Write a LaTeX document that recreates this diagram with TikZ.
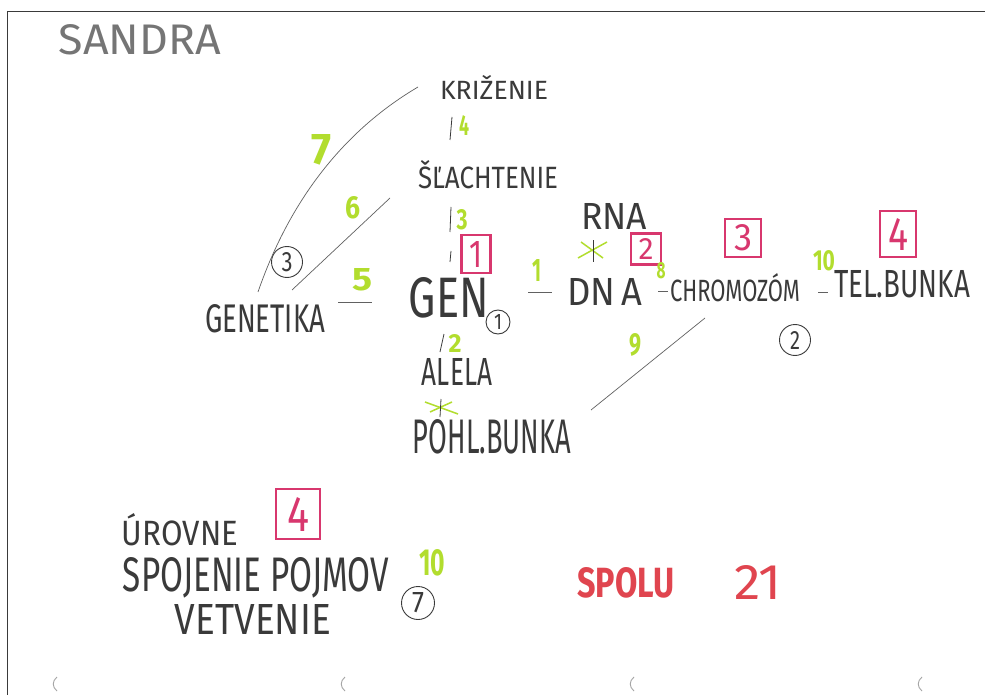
\documentclass[tikz,border=0pt]{standalone}
\usepackage{fontspec}
\setmainfont{Fira Sans}
\usepackage{graphicx}
\definecolor{pencil}{HTML}{3A3A3A}
\definecolor{lime}{HTML}{B2DD2E}
\definecolor{pinkm}{HTML}{D8376E}
\definecolor{redc}{HTML}{E0454F}
\newcommand\hw[3]{\resizebox{#1pt}{#2pt}{#3}}
\tikzset{
  word/.style={inner sep=0pt, text=pencil},
  num/.style={inner sep=0pt, text=lime, font=\bfseries},
  lvl/.style={draw=pinkm, line width=2.2pt, text=pinkm, inner sep=0pt},
  ring/.style={circle, draw=pencil, line width=0.9pt, inner sep=0pt, text=pencil},
  link/.style={draw=pencil!80, line width=0.7pt},
  tick/.style={draw=pencil, line width=0.8pt},
  gcross/.style={draw=lime, line width=1.5pt},
}
\begin{document}
\begin{tikzpicture}[x=1pt,y=-1pt]
\useasboundingbox (0,0) rectangle (985,695);
\fill[white] (0,0) rectangle (985,695);
% sheet edge
\coordinate (f1) at (7,695); \coordinate (f2) at (7,12); \coordinate (f3) at (985,12);
\draw[pencil, line width=1pt] (f1) -- (f2) -- (f3);

\node[word, text=pencil!70] (sandra) at (140,40) {\hw{162}{30}{SANDRA}};

% concepts
\node[word] (kriz) at (494,88) {\hw{108}{24}{KRIŽENIE}};
\node[word] (slach) at (488,175) {\hw{140}{28}{ŠĽACHTENIE}};
\node[word] (gen) at (449,298) {\hw{80}{40}{GEN}};
\node[word] (rna) at (614,216) {\hw{66}{26}{RNA}};
\node[word] (dna) at (605,292) {\hw{75}{27}{DN\,A}};
\node[word] (chrom) at (735,288) {\hw{130}{28}{CHROMOZÓM}};
\node[word] (tel) at (902,284) {\hw{136}{27}{TEL.BUNKA}};
\node[word] (genet) at (265,319) {\hw{120}{28}{GENETIKA}};
\node[word] (alela) at (457,372) {\hw{70}{27}{ALELA}};
\node[word] (pohl) at (492,437) {\hw{158}{34}{POHL.BUNKA}};

% level boxes
\node[lvl, minimum width=29pt, minimum height=38pt] (b1) at (476,254) {\hw{13}{26}{1}};
\node[lvl, minimum width=30pt, minimum height=31pt] (b2) at (646,249) {\hw{15}{21}{2}};
\node[lvl, minimum width=36pt, minimum height=38pt] (b3) at (743,238) {\hw{18}{26}{3}};
\node[lvl, minimum width=36pt, minimum height=46pt] (b4) at (898,234) {\hw{20}{32}{4}};

% rings
\node[ring, minimum size=24pt] (c1) at (498,322) {\hw{8}{15}{1}};
\node[ring, minimum size=31pt] (c2) at (795,340) {\hw{10}{18}{2}};
\node[ring, minimum size=31pt] (c3) at (287,262) {\hw{11}{19}{3}};
\node[ring, minimum size=33pt] (c7) at (418,603) {\hw{12}{20}{7}};

% connectors
\coordinate (l7a) at (258,292); \coordinate (l7b) at (418,87);
\draw[link] (l7a) .. controls (288,205) and (340,133) .. (l7b);
\coordinate (l6a) at (292,290); \coordinate (l6b) at (390,198);
\draw[link] (l6a) -- (l6b);
\coordinate (l5a) at (338,302); \coordinate (l5b) at (372,302);
\draw[link] (l5a) -- (l5b);
\coordinate (t4a) at (452,117); \coordinate (t4b) at (450,140);
\draw[tick] (t4a) -- (t4b);
\coordinate (t3a) at (451,207); \coordinate (t3b) at (450,232);
\draw[tick] (t3a) -- (t3b);
\coordinate (t3c) at (451,251); \coordinate (t3d) at (450,262);
\draw[tick] (t3c) -- (t3d);
\coordinate (d1a) at (528,292); \coordinate (d1b) at (552,292);
\draw[link] (d1a) -- (d1b);
\coordinate (d2a) at (658,291); \coordinate (d2b) at (668,291);
\draw[link] (d2a) -- (d2b);
\coordinate (d3a) at (818,292); \coordinate (d3b) at (828,292);
\draw[link] (d3a) -- (d3b);
\coordinate (l9a) at (705,318); \coordinate (l9b) at (591,410);
\draw[link] (l9a) -- (l9b);
\coordinate (t2a) at (444,334); \coordinate (t2b) at (440,352);
\draw[tick] (t2a) -- (t2b);

% crosses
\coordinate (x1a) at (578,258); \coordinate (x1b) at (607,242);
\coordinate (x1c) at (581,242); \coordinate (x1d) at (603,258);
\draw[gcross] (x1a) -- (x1b); \draw[gcross] (x1c) -- (x1d);
\coordinate (x1e) at (593,240); \coordinate (x1f) at (593,262);
\draw[tick] (x1e) -- (x1f);
\coordinate (x2a) at (425,402); \coordinate (x2b) at (458,414);
\coordinate (x2c) at (430,412); \coordinate (x2d) at (452,402);
\draw[gcross] (x2a) -- (x2b); \draw[gcross] (x2c) -- (x2d);
\coordinate (x2e) at (441,399); \coordinate (x2f) at (440,417);
\draw[tick] (x2e) -- (x2f);

% green numbers
\node[num] (n4) at (464,126) {\hw{10}{20}{4}};
\node[num] (n3) at (462,220) {\hw{11}{20}{3}};
\node[num] (n7) at (321,150) {\hw{20}{30}{7}};
\node[num] (n6) at (353,208) {\hw{15}{22}{6}};
\node[num] (n5) at (362,280) {\hw{20}{22}{5}};
\node[num] (n1) at (537,270) {\hw{9}{22}{1}};
\node[num] (n8) at (661,271) {\hw{9}{16}{8}};
\node[num] (n10) at (824,261) {\hw{22}{20}{10}};
\node[num] (n9) at (635,345) {\hw{12}{22}{9}};
\node[num] (n2) at (455,343) {\hw{13}{18}{2}};
\node[num] (n10b) at (432,563) {\hw{26}{26}{10}};

% legend
\node[word] (urovne) at (180,530) {\hw{116}{32}{ÚROVNE}};
\node[lvl, minimum width=44pt, minimum height=50pt] (b4b) at (298,514) {\hw{22}{34}{4}};
\node[word] (spoj) at (256,578) {\hw{266}{34}{SPOJENIE POJMOV}};
\node[word] (vetv) at (253,619) {\hw{156}{30}{VETVENIE}};
\node[word, text=redc] (spolu) at (626,583) {\hw{97}{30}{\bfseries SPOLU}};
\node[word, text=redc] (sum) at (758,582) {\hw{48}{34}{21}};

% punch marks
\foreach \x/\n in {57/p1,345/p2,634/p3,922/p4}{
  \coordinate (\n a) at (\x,677); \coordinate (\n b) at (\x,691);
  \draw[pencil!45, line width=0.9pt] (\n a) .. controls (\x-5,681) and (\x-5,687) .. (\n b);
}
\end{tikzpicture}
\end{document}
